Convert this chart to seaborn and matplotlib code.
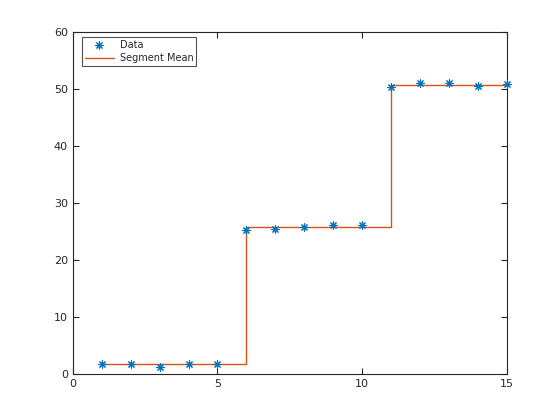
import numpy as np
import pandas as pd
import matplotlib
matplotlib.use("Agg")
import matplotlib.pyplot as plt
import seaborn as sns

x_data = [1, 2, 3, 4, 5, 6, 7, 8, 9, 10, 11, 12, 13, 14, 15]
y_data = [1.8, 1.8, 1.2, 1.8, 1.7, 25.2, 25.3, 25.7, 26.0, 26.0, 50.2, 51.0, 51.0, 50.5, 50.8]
seg_edges = [1, 6, 11, 15]
seg_means = [1.65, 25.65, 50.7, 50.7]

sns.set_style("ticks")
plt.rcParams['font.family'] = ['DejaVu Sans']

df = pd.DataFrame({'x': x_data, 'y': y_data})
seg = pd.DataFrame({'x': seg_edges, 'y': seg_means})

fig = plt.figure(figsize=(5.6, 4.2), dpi=100)
ax = fig.add_axes([0.13, 0.11, 0.775, 0.815])

sns.lineplot(data=seg, x='x', y='y', ax=ax, drawstyle='steps-post',
             color='#D95319', linewidth=1, label='Segment Mean', zorder=2)
sns.scatterplot(data=df, x='x', y='y', ax=ax, marker=(8, 2, 0), s=28,
                color='#0072BD', linewidth=0.8, edgecolor='#0072BD',
                label='Data', zorder=3, clip_on=False)

ax.set_xlim(0, 15)
ax.set_ylim(0, 60)
ax.set_xticks([0, 5, 10, 15])
ax.set_yticks(range(0, 61, 10))
ax.set_xlabel('')
ax.set_ylabel('')
for s in ax.spines.values():
    s.set_visible(True)
    s.set_linewidth(0.8)
    s.set_color('#262626')
ax.tick_params(direction='in', top=True, right=True, length=4,
               labelsize=8, colors='#262626', width=0.8)

h, l = ax.get_legend_handles_labels()
order = [l.index('Data'), l.index('Segment Mean')]
leg = ax.legend([h[i] for i in order], [l[i] for i in order],
                loc='upper left', bbox_to_anchor=(0.016, 0.99), fontsize=7,
                frameon=True, fancybox=False, edgecolor='#262626',
                handlelength=3.0, borderpad=0.3, labelspacing=0.35,
                handletextpad=0.6, borderaxespad=0.2)
leg.get_frame().set_linewidth(0.8)

fig.savefig('out.png', dpi=100)
